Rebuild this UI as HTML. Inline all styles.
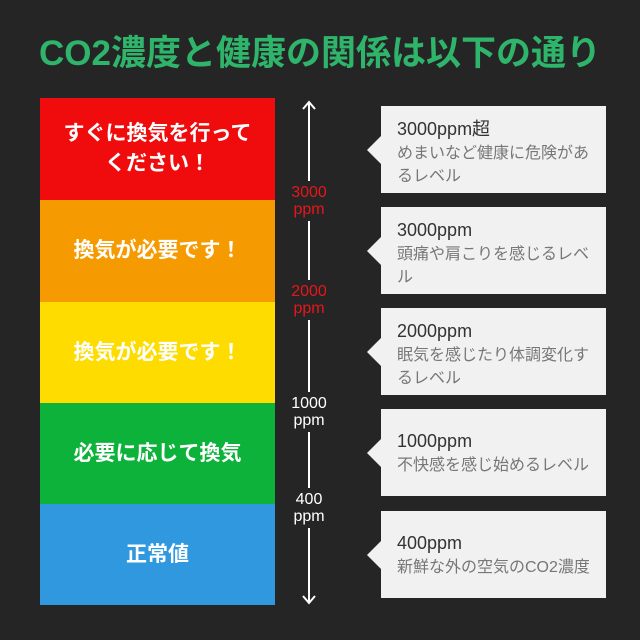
<!DOCTYPE html>
<html><head><meta charset="utf-8"><style>
body{margin:0;width:640px;height:640px;background:#252525;position:relative;overflow:hidden;font-family:"Liberation Sans","Noto Sans CJK JP",sans-serif}
.t{position:absolute;left:0;width:640px;top:31px;text-align:center;color:#2fb56b;font-size:35px;font-weight:bold;letter-spacing:0px;line-height:46px;white-space:nowrap}
.seg{position:absolute;left:40px;width:235px;display:flex;align-items:center;justify-content:center;text-align:center;color:#fff;font-weight:bold;font-size:21px;line-height:30px}
.lab{position:absolute;left:279px;width:60px;text-align:center;font-size:16px;line-height:17px;color:#fff;background:#252525}
.box{position:absolute;left:381px;width:225px;height:87px;background:#f1f1f1;box-sizing:border-box;padding:12px 0 0 16px}
.box:before{content:"";position:absolute;left:-14px;top:50%;margin-top:-14px;border-right:14px solid #f1f1f1;border-top:14px solid transparent;border-bottom:14px solid transparent}
.h{font-size:18px;color:#333;line-height:23px}
.d{font-size:16px;color:#777;line-height:23px;margin-top:1px}
</style></head><body>
<div class="t">CO2濃度と健康の関係は以下の通り</div>
<div class="seg" style="top:98px;height:102px;background:#f00c0c">すぐに換気を行って<br>ください！</div>
<div class="seg" style="top:200px;height:102px;background:#f59a00">換気が必要です！</div>
<div class="seg" style="top:302px;height:101px;background:#fedc00">換気が必要です！</div>
<div class="seg" style="top:403px;height:101px;background:#0db23a">必要に応じて換気</div>
<div class="seg" style="top:504px;height:101px;background:#2f98df">正常値</div>
<svg style="position:absolute;left:0;top:0" width="640" height="640">
<line x1="309" y1="102" x2="309" y2="603" stroke="#fff" stroke-width="2"/>
<polyline points="303,109 309,102 315,109" fill="none" stroke="#fff" stroke-width="2"/>
<polyline points="303,596 309,603 315,596" fill="none" stroke="#fff" stroke-width="2"/>
</svg>
<div class="lab" style="top:181px;color:#e8161b;padding:3px 0">3000<br>ppm</div>
<div class="lab" style="top:280px;color:#e8161b;padding:3px 0">2000<br>ppm</div>
<div class="lab" style="top:392px;padding:3px 0">1000<br>ppm</div>
<div class="lab" style="top:488px;padding:3px 0">400<br>ppm</div>
<div class="box" style="top:106px"><div class="h">3000ppm超</div><div class="d">めまいなど健康に危険があ<br>るレベル</div></div>
<div class="box" style="top:207px"><div class="h">3000ppm</div><div class="d">頭痛や肩こりを感じるレベ<br>ル</div></div>
<div class="box" style="top:308px"><div class="h">2000ppm</div><div class="d">眠気を感じたり体調変化す<br>るレベル</div></div>
<div class="box" style="top:409px;padding-top:21px"><div class="h">1000ppm</div><div class="d">不快感を感じ始めるレベル</div></div>
<div class="box" style="top:511px;padding-top:21px"><div class="h">400ppm</div><div class="d">新鮮な外の空気のCO2濃度</div></div>
</body></html>
